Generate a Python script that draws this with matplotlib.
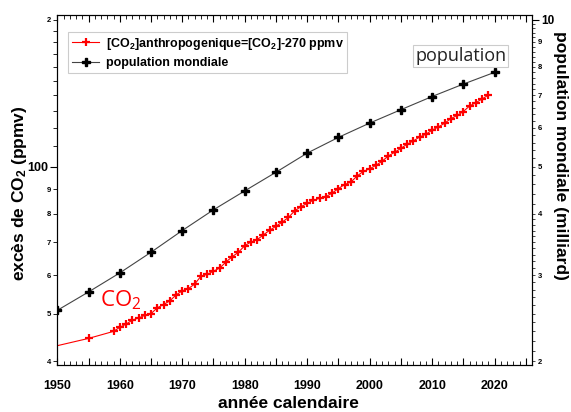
import matplotlib
matplotlib.use("Agg")
import matplotlib.pyplot as plt
from matplotlib.ticker import FixedLocator, FuncFormatter, MultipleLocator

plt.rcParams["font.family"] = ["Liberation Sans", "DejaVu Sans"]
plt.rcParams["mathtext.default"] = "regular"

# excès de CO2 = [CO2] - 270 ppmv
co2_years = [1950, 1955] + list(range(1959, 2020))
co2_excess = [43.0, 44.5,
              46.0, 46.9, 47.6, 48.5, 49.0, 49.6, 50.0, 51.4, 52.2, 53.1,
              54.6, 55.7, 56.3, 57.5, 59.7, 60.2, 61.1, 62.0, 63.8, 65.4,
              66.8, 68.9, 70.1, 70.9, 72.5, 74.1, 75.5, 77.0, 78.7, 81.2,
              82.8, 84.1, 85.4, 86.1, 86.8, 88.3, 90.2, 91.9, 93.0, 95.7,
              97.8, 99.0, 100.6, 102.6, 105.2, 107.0, 109.0, 111.2, 112.9, 115.0,
              116.5, 118.8, 120.6, 122.7, 125.4, 127.3, 129.7, 133.1, 135.2, 137.6,
              140.1]

# population mondiale (milliard)
pop_years = [1950, 1955, 1960, 1965, 1970, 1975, 1980, 1985, 1990, 1995,
             2000, 2005, 2010, 2015, 2020]
pop = [2.54, 2.77, 3.03, 3.34, 3.70, 4.08, 4.46, 4.87, 5.33, 5.74,
       6.14, 6.54, 6.96, 7.38, 7.80]

left_major = [100]
left_minor = [40, 50, 60, 70, 80, 90, 110, 120, 130, 140, 150, 160, 170, 180, 190, 200]
right_major = [10]
right_minor = [2 + 0.1 * i for i in range(20)] + [4 + 0.2 * i for i in range(30)]

fig = plt.figure(figsize=(5.71, 4.12), dpi=100)
ax = fig.add_axes([0.1004, 0.114, 0.8313, 0.849])
ax2 = ax.twinx()

ax.plot(co2_years, co2_excess, color="red", lw=0.8, marker="+", ms=6, mew=1.6,
        markevery=slice(1, None), label="[CO$_2$]anthropogenique=[CO$_2$]-270 ppmv")
ax2.plot(pop_years, pop, color="#444444", lw=0.8, marker="P", ms=5.5,
         mfc="black", mec="black", label="population mondiale")

ax.set_yscale("log")
ax2.set_yscale("log")
ax.set_xlim(1950, 2026)
ax.set_ylim(39.25, 204.2)
ax2.set_ylim(39.25 / 20, 204.2 / 20)

# x axis
ax.xaxis.set_major_locator(MultipleLocator(5))
ax.xaxis.set_minor_locator(MultipleLocator(1))
ax.xaxis.set_major_formatter(FuncFormatter(lambda v, p: f"{int(v)}" if int(v) % 10 == 0 else ""))
ax.tick_params(axis="x", which="both", direction="in", top=True, labelsize=9, pad=11)
ax.tick_params(axis="x", which="major", length=5, width=0.8)
ax.tick_params(axis="x", which="minor", length=3, width=0.6)
for lab in ax.get_xticklabels():
    lab.set_fontweight("bold")

# left y axis
ax.yaxis.set_major_locator(FixedLocator(left_major))
ax.yaxis.set_minor_locator(FixedLocator(left_minor))
ax.yaxis.set_major_formatter(FuncFormatter(lambda v, p: "100"))
ax.yaxis.set_minor_formatter(FuncFormatter(
    lambda v, p: (str(int(round(v)))[0] if round(v) < 100 or round(v) == 200 else "")))
ax.tick_params(axis="y", which="major", direction="out", length=5, width=0.8,
               labelsize=9, pad=1.5)
ax.tick_params(axis="y", which="minor", direction="out", length=3, width=0.6,
               labelsize=5.5, pad=1.5)

# right y axis
ax2.yaxis.set_major_locator(FixedLocator(right_major))
ax2.yaxis.set_minor_locator(FixedLocator(right_minor))
ax2.yaxis.set_major_formatter(FuncFormatter(lambda v, p: "10"))
ax2.yaxis.set_minor_formatter(FuncFormatter(
    lambda v, p: str(int(round(v))) if abs(v - round(v)) < 1e-6 else ""))
ax2.tick_params(axis="y", which="major", direction="out", length=5, width=0.8,
                labelsize=8.5, pad=1.5)
ax2.tick_params(axis="y", which="minor", direction="out", length=2.5, width=0.5,
                labelsize=5.5, pad=1.5)

for a in (ax, ax2):
    for lab in a.get_yticklabels(which="both"):
        lab.set_fontweight("bold")

ax.set_xlabel("année calendaire", fontsize=12.5, fontweight="bold")
ax.xaxis.set_label_coords(0.486, -0.088)
ax.set_ylabel("excès de CO$_2$ (ppmv)", fontsize=12.5, fontweight="bold", va="center")
ax.yaxis.set_label_coords(-0.079, 0.492)
ax2.set_ylabel("population mondiale (milliard)", fontsize=12.5, fontweight="bold",
               rotation=270, va="center")
ax2.yaxis.set_label_coords(1.059, 0.60)

h1, l1 = ax.get_legend_handles_labels()
h2, l2 = ax2.get_legend_handles_labels()
leg = ax2.legend(h1 + h2, l1 + l2, loc="upper left", bbox_to_anchor=(0.023, 0.952),
                 prop={"weight": "bold", "size": 9}, fancybox=False, frameon=True,
                 edgecolor="#cccccc", framealpha=1, borderpad=0.3, labelspacing=0.45,
                 handlelength=2.2, handletextpad=0.5, borderaxespad=0)
leg.get_frame().set_linewidth(0.8)

ax.text(1956.9, 51.7, "CO$_2$", color="red", fontsize=16, family="Open Sans",
        va="baseline")
ax2.text(2007.3, 8.43, "population", color="#222222", fontsize=13, family="Open Sans",
         va="center",
         bbox=dict(boxstyle="square,pad=0.12", fc="white", ec="#cccccc", lw=0.8))

fig.savefig("out.png", dpi=100)
